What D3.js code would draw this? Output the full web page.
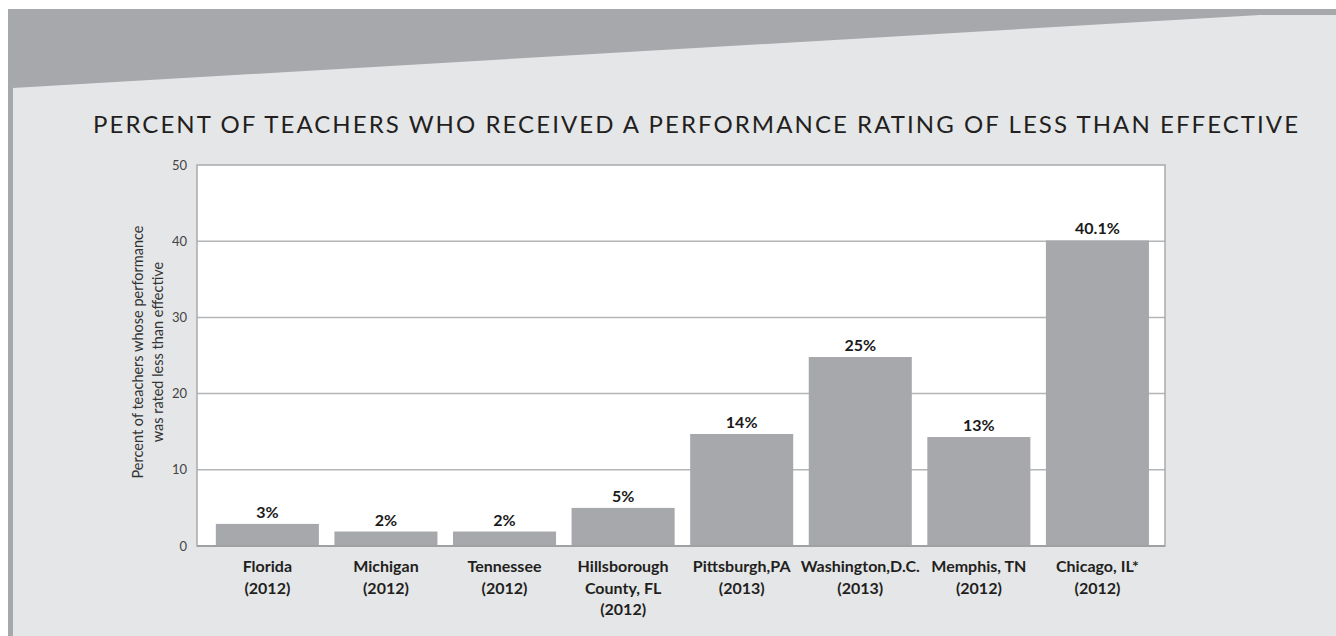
<!DOCTYPE html>
<html>
<head>
<meta charset="utf-8">
<script src="https://cdn.jsdelivr.net/npm/d3@7"></script>
<style>
  html, body { margin: 0; padding: 0; background: #ffffff; }
  svg { display: block; }
  text { font-family: Lato, "Open Sans", sans-serif; }
</style>
</head>
<body>
<svg id="chart" width="1336" height="636"></svg>
<script>
// ---- data ----
const categories = [
  ["Florida", "(2012)"],
  ["Michigan", "(2012)"],
  ["Tennessee", "(2012)"],
  ["Hillsborough", "County, FL", "(2012)"],
  ["Pittsburgh,PA", "(2013)"],
  ["Washington,D.C.", "(2013)"],
  ["Memphis, TN", "(2012)"],
  ["Chicago, IL*", "(2012)"]
];
const values = [2.9, 1.9, 1.9, 5.0, 14.7, 24.8, 14.3, 40.1];
const valueLabels = ["3%", "2%", "2%", "5%", "14%", "25%", "13%", "40.1%"];
const yTicks = [0, 10, 20, 30, 40, 50];
const titleText = "PERCENT OF TEACHERS WHO RECEIVED A PERFORMANCE RATING OF LESS THAN EFFECTIVE";
const yTitleLines = ["Percent of teachers whose performance", "was rated less than effective"];

// ---- layout ----
const W = 1336, H = 636;
const plot = { left: 197, right: 1165, top: 165, bottom: 546 };
const dark = "#a7a8ab", light = "#e5e6e8";

const svg = d3.select("#chart");

// background panels
svg.append("rect").attr("x", 8).attr("y", 9).attr("width", W - 8).attr("height", H - 9).attr("fill", light);
svg.append("polygon")
  .attr("points", [[8, 9], [W, 9], [W, 15], [1260, 15], [13, 88], [8, 88]].map(p => p.join(",")).join(" "))
  .attr("fill", dark);
svg.append("rect").attr("x", 8).attr("y", 9).attr("width", 5).attr("height", H - 9).attr("fill", dark);

// title
svg.append("text")
  .attr("x", 93).attr("y", 133)
  .attr("textLength", 1205).attr("lengthAdjust", "spacing")
  .attr("font-size", 24).attr("fill", "#231f20")
  .text(titleText);

// scales
const x = d3.scaleBand()
  .domain(d3.range(categories.length))
  .range([plot.left, plot.right])
  .paddingInner(0.131).paddingOuter(0.147).align(0.54);
const y = d3.scaleLinear().domain([0, 50]).range([plot.bottom, plot.top]);

// plot background
svg.append("rect")
  .attr("x", plot.left).attr("y", plot.top)
  .attr("width", plot.right - plot.left).attr("height", plot.bottom - plot.top)
  .attr("fill", "#ffffff");

// gridlines
svg.append("g").selectAll("line")
  .data(yTicks.filter(t => t > 0 && t < 50))
  .join("line")
  .attr("x1", plot.left).attr("x2", plot.right)
  .attr("y1", d => y(d)).attr("y2", d => y(d))
  .attr("stroke", "#b4b5b7").attr("stroke-width", 1.5);

// bars
svg.append("g").selectAll("rect")
  .data(values)
  .join("rect")
  .attr("x", (d, i) => x(i))
  .attr("width", x.bandwidth())
  .attr("y", d => y(d))
  .attr("height", d => y(0) - y(d))
  .attr("fill", dark);

// frame
svg.append("rect")
  .attr("x", plot.left).attr("y", plot.top)
  .attr("width", plot.right - plot.left).attr("height", plot.bottom - plot.top)
  .attr("fill", "none").attr("stroke", "#a9aaac").attr("stroke-width", 1.5);
svg.append("line")
  .attr("x1", plot.left).attr("x2", plot.right)
  .attr("y1", y(0)).attr("y2", y(0))
  .attr("stroke", "#a0a1a3").attr("stroke-width", 2);

// y axis (labels only)
const yAxis = d3.axisLeft(y).tickValues(yTicks).tickSize(0).tickPadding(10);
const gy = svg.append("g").attr("transform", `translate(${plot.left},0)`).call(yAxis);
gy.select(".domain").remove();
gy.selectAll("text")
  .attr("font-family", "Lato, sans-serif")
  .attr("font-size", 13)
  .attr("fill", "#444");

// y title
const yt = svg.append("g").attr("transform", "translate(0,352) rotate(-90)");
yTitleLines.forEach((line, i) => {
  yt.append("text")
    .attr("x", 0).attr("y", 143 + i * 20)
    .attr("text-anchor", "middle")
    .attr("font-size", 14.5).attr("fill", "#333")
    .text(line);
});

// value labels
svg.append("g").selectAll("text")
  .data(values)
  .join("text")
  .attr("x", (d, i) => x(i) + x.bandwidth() / 2)
  .attr("y", d => y(d) - 6)
  .attr("text-anchor", "middle")
  .attr("font-size", 16).attr("font-weight", 700).attr("fill", "#1a1a1a")
  .text((d, i) => valueLabels[i]);

// category labels
const xAxis = d3.axisBottom(x).tickSize(0).tickFormat(() => "");
const gx = svg.append("g").attr("transform", `translate(0,${plot.bottom})`).call(xAxis);
gx.select(".domain").remove();
gx.selectAll(".tick").each(function(i) {
  const t = d3.select(this).append("text")
    .attr("text-anchor", "middle")
    .attr("font-size", 16).attr("font-weight", 700).attr("fill", "#231f20");
  categories[i].forEach((line, j) => {
    t.append("tspan").attr("x", 0).attr("y", 26 + j * 21.5).text(line);
  });
});
</script>
</body>
</html>
